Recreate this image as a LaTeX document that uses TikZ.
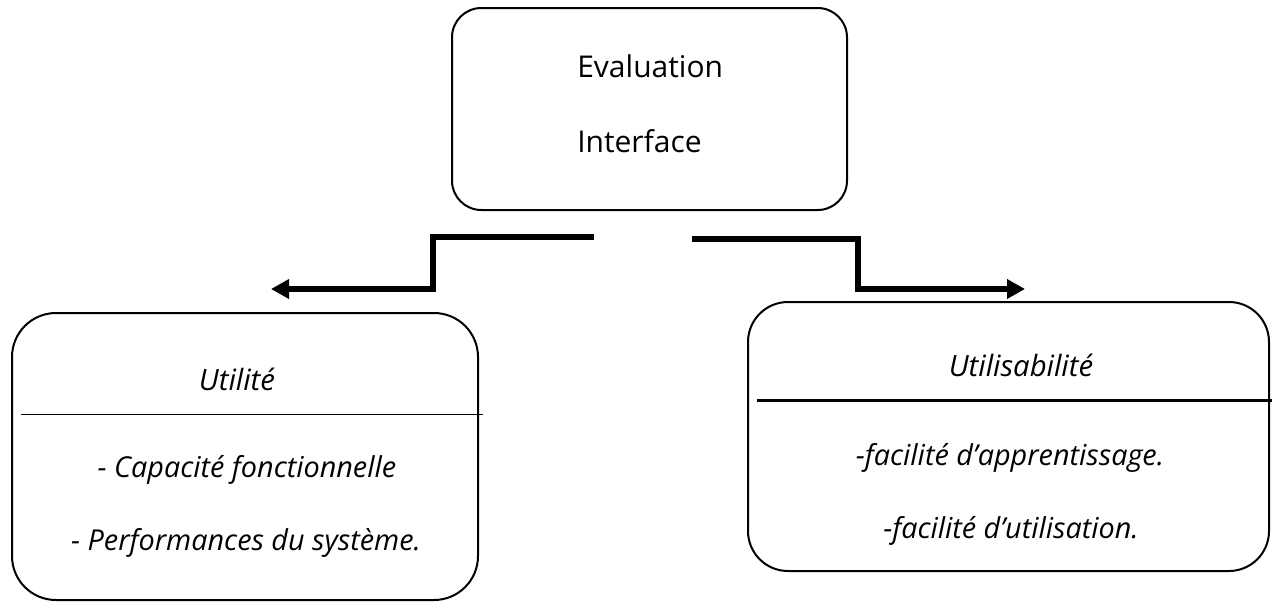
\documentclass[tikz,border=0pt]{standalone}
\usepackage{fontspec}
\setmainfont{Open Sans}
\usetikzlibrary{fit}
\usetikzlibrary{arrows.meta}
\tikzstyle{box}=[draw, line width=1.5pt, inner sep=0pt]
\tikzstyle{flow}=[line width=4.5pt, -{Triangle[length=13.5pt, width=14pt]}]
\tikzstyle{title}=[anchor=base, inner sep=0pt, font=\fontsize{22.5}{26}\selectfont]
\tikzstyle{head}=[anchor=base, inner sep=0pt, font=\fontsize{22}{26}\selectfont\itshape]
\tikzstyle{item}=[anchor=base, inner sep=0pt, font=\fontsize{21.6}{26}\selectfont\itshape]

\begin{document}
\begin{tikzpicture}[x=0.75pt, y=-0.75pt]
          \useasboundingbox (0, 0) rectangle (1280, 603);
          % boxes
          \node[box, rounded corners=22pt, fit={(452, 8) (847, 210)}] (eval) {};
          \node[box, rounded corners=33pt, fit={(12, 313) (478, 600)}] (util) {};
          \node[box, rounded corners=30pt, fit={(748, 302) (1269, 571)}] (usab) {};
          % texts
          \node[title, anchor=base west] (evaltxt) at (577, 77) {Evaluation};
          \node[title, anchor=base west] (interftxt) at (577, 152) {Interface};
          \node[head] (utilhead) at (237, 390) {Utilité};
          \node[item] (capa) at (247, 477) {- Capacité fonctionnelle};
          \node[item] (perf) at (246, 550) {- Performances du système.};
          \node[head] (usabhead) at (1021, 376) {Utilisabilité};
          \node[item] (appr) at (1010, 465) {-facilité d’apprentissage.};
          \node[item] (usage) at (1011, 538) {-facilité d’utilisation.};
          % separators
          \coordinate (utilsepl) at (21, 414);
          \coordinate (utilsepr) at (483, 414);
          \coordinate (usabsepl) at (757, 400);
          \coordinate (usabsepr) at (1272, 400);
          \draw[line width=0.75pt] (utilsepl) -- (utilsepr);
          \draw[line width=2.25pt] (usabsepl) -- (usabsepr);
          % connectors
          \coordinate (lstart) at (594, 237);
          \coordinate (lbend) at (433, 289);
          \coordinate (ltip) at (271, 289);
          \coordinate (rstart) at (692, 239);
          \coordinate (rbend) at (858, 289);
          \coordinate (rtip) at (1025, 289);
          \draw[flow] (lstart) -| (lbend) -- (ltip);
          \draw[flow] (rstart) -| (rbend) -- (rtip);
        \end{tikzpicture}
\end{document}
